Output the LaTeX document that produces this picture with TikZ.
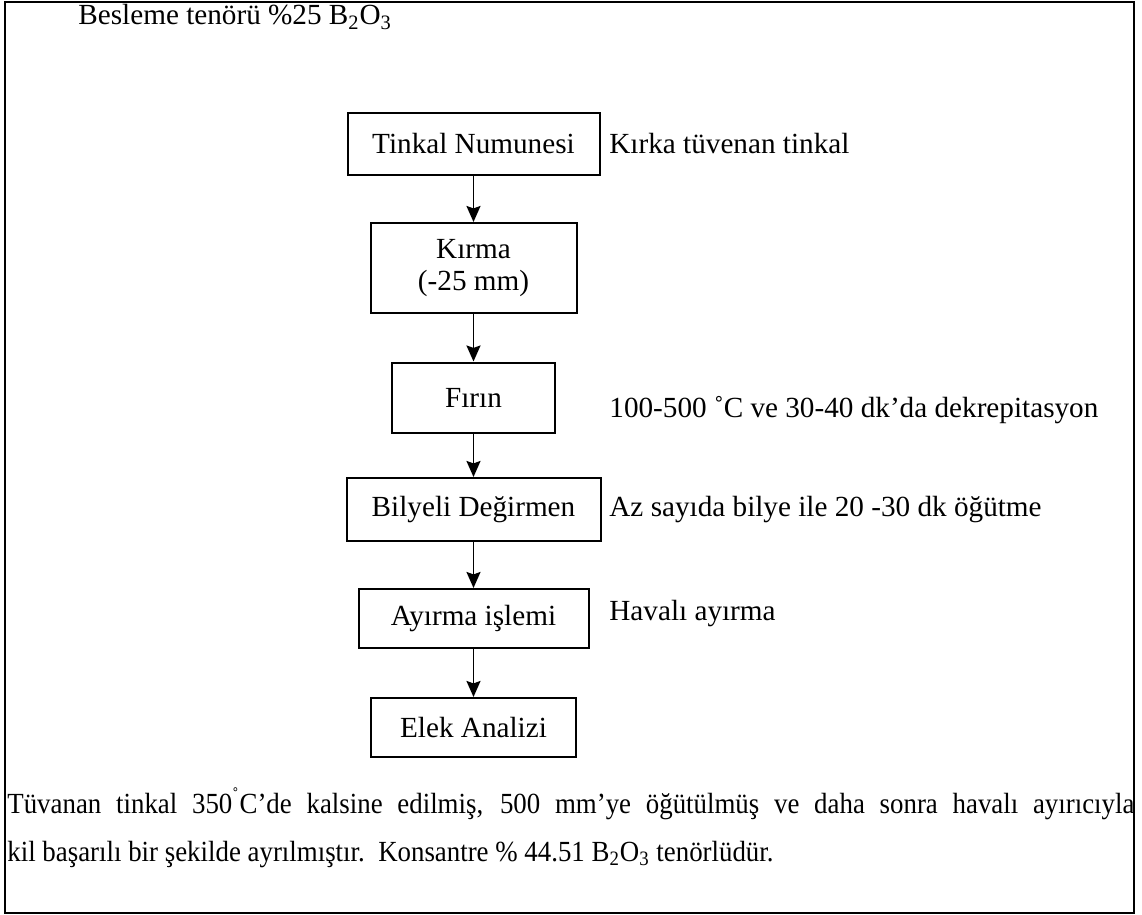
\documentclass[tikz,border=0pt]{standalone}
\usepackage{fontspec}
\setmainfont{Liberation Serif}
\newfontfamily\narrowserif{Liberation Serif}[FakeStretch=0.92]
\usetikzlibrary{arrows.meta}
\begin{document}
\begin{tikzpicture}[x=0.5pt,y=-0.5pt,
  every node/.style={font=\fontsize{14.6pt}{16pt}\selectfont, inner sep=0pt},
  stepbox/.style={draw, line width=1pt, align=center},
  flow/.style={-{Stealth[length=8pt,width=7pt,inset=1.2pt]}, line width=0.95pt},
  note/.style={anchor=base west},
  remark/.style={anchor=base west, font=\narrowserif\fontsize{14.6pt}{16pt}\selectfont}]
\useasboundingbox (0,0) rectangle (1142,915);
% outer frame
\draw[line width=1.1pt] (5,2) rectangle (1134,913);

% feed grade
\node[note] (feed) at (78,25) {Besleme tenörü \%25 B\textsubscript{2}O\textsubscript{3}};

% process steps
\node[stepbox, minimum width=126pt, minimum height=31pt] (tinkal) at (473.5,144) {Tinkal Numunesi};
\node[stepbox, minimum width=103pt, minimum height=45pt] (kirma) at (473.5,268) {Kırma\\(-25 mm)};
\node[stepbox, minimum width=81.5pt, minimum height=35pt] (firin) at (473.5,397.5) {Fırın};
\node[stepbox, minimum width=127pt, minimum height=31.5pt] (bilye) at (473.5,509.5) {Bilyeli Değirmen};
\node[stepbox, minimum width=115pt, minimum height=29.5pt] (ayirma) at (473.5,618.5) {Ayırma işlemi};
\node[stepbox, minimum width=102.5pt, minimum height=29.5pt] (elek) at (473.5,727.5) {Elek Analizi};

% flow arrows
\draw[flow] (tinkal) -- (kirma);
\draw[flow] (kirma) -- (firin);
\draw[flow] (firin) -- (bilye);
\draw[flow] (bilye) -- (ayirma);
\draw[flow] (ayirma) -- (elek);

% step notes
\coordinate (labx) at (609,0);
\node[note] (n1) at (tinkal.base -| labx) {Kırka tüvenan tinkal};
\node[note] (n2) at (609,417) {100-500 ˚C ve 30-40 dk’da dekrepitasyon};
\node[note] (n3) at (bilye.base -| labx) {Az sayıda bilye ile 20 -30 dk öğütme};
\node[note] (n4) at ([yshift=2.5pt]ayirma.base -| labx) {Havalı ayırma};

% closing remark, first line justified to the frame
\node[remark] (para1) at (7,813) {\makebox[563.5pt][s]{Tüvanan tinkal 350\textsuperscript{˚}C’de kalsine edilmiş, 500 mm’ye öğütülmüş ve daha sonra havalı ayırıcıyla}};
\node[remark] (para2) at (7,861) {kil başarılı bir şekilde ayrılmıştır.\ \ Konsantre \% 44.51 B\textsubscript{2}O\textsubscript{3} tenörlüdür.};
\end{tikzpicture}
\end{document}
